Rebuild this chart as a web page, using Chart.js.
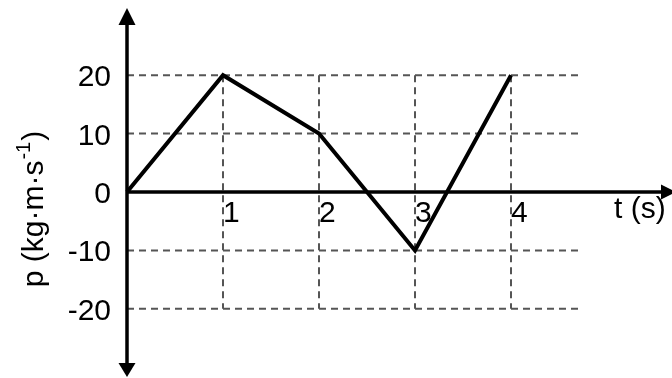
<!DOCTYPE html>
<html>
<head>
<meta charset="utf-8">
<script src="https://cdn.jsdelivr.net/npm/chart.js@4/dist/chart.umd.min.js"></script>
<style>
  body { margin: 0; background: #fff; }
  #wrap { width: 672px; height: 378px; }
</style>
</head>
<body>
<div id="wrap"><canvas id="myCanvas" width="672" height="378"></canvas></div>
<script>
// momentum vs time
const tValues = [0, 1, 2, 3, 4];
const pValues = [0, 20, 10, -10, 20];
const yTicks = [20, 10, 0, -10, -20];
const xTicks = [1, 2, 3, 4];
const gridRight = 4.75;

const FONT = '30px "Liberation Sans", Arial, sans-serif';

function arrowHead(ctx, tipX, tipY, dir, len, half)
{
    ctx.beginPath();
    if (dir === 'up') {
        ctx.moveTo(tipX, tipY);
        ctx.lineTo(tipX - half, tipY + len);
        ctx.lineTo(tipX + half, tipY + len);
    } else if (dir === 'down') {
        ctx.moveTo(tipX, tipY);
        ctx.lineTo(tipX - half, tipY - len);
        ctx.lineTo(tipX + half, tipY - len);
    } else {
        ctx.moveTo(tipX, tipY);
        ctx.lineTo(tipX - len, tipY - half);
        ctx.lineTo(tipX - len, tipY + half);
    }
    ctx.closePath();
    ctx.fill();
}

const axesPlugin = {
    id: 'axesPlugin',
    beforeDatasetsDraw(chart) {
        const ctx = chart.ctx;
        const xs = chart.scales.x, ys = chart.scales.y;
        const x0 = xs.getPixelForValue(0);
        const y0 = ys.getPixelForValue(0);
        const yTop = ys.getPixelForValue(Math.max(...yTicks));
        const yBot = ys.getPixelForValue(Math.min(...yTicks));
        const xEnd = xs.getPixelForValue(gridRight);

        ctx.save();
        // dashed grid
        ctx.strokeStyle = '#555';
        ctx.lineWidth = 2;
        ctx.setLineDash([7, 5]);
        yTicks.forEach(v => {
            if (v === 0) return;
            const y = ys.getPixelForValue(v);
            ctx.beginPath();
            ctx.moveTo(x0, y);
            ctx.lineTo(xEnd, y);
            ctx.stroke();
        });
        xTicks.forEach(v => {
            const x = xs.getPixelForValue(v);
            ctx.beginPath();
            ctx.moveTo(x, yTop);
            ctx.lineTo(x, yBot);
            ctx.stroke();
        });
        ctx.setLineDash([]);

        // axes
        ctx.strokeStyle = '#000';
        ctx.fillStyle = '#000';
        ctx.lineWidth = 3.5;
        ctx.beginPath();
        ctx.moveTo(x0, 20);
        ctx.lineTo(x0, 368);
        ctx.stroke();
        ctx.beginPath();
        ctx.moveTo(x0, y0);
        ctx.lineTo(664, y0);
        ctx.stroke();
        arrowHead(ctx, x0, 8, 'up', 17, 8.5);
        arrowHead(ctx, x0, 377, 'down', 14, 8.5);
        arrowHead(ctx, 676, y0, 'right', 15, 7.5);

        // tick labels
        ctx.font = FONT;
        ctx.textBaseline = 'alphabetic';
        ctx.textAlign = 'right';
        yTicks.forEach(v => {
            ctx.fillText(String(v), 111, ys.getPixelForValue(v) + 11);
        });
        ctx.textAlign = 'left';
        xTicks.forEach(v => {
            ctx.fillText(String(v), xs.getPixelForValue(v) + 0, y0 + 30);
        });
        ctx.fillText('t (s)', 614, y0 + 26);

        // y title with superscript
        const mainA = 'p (kg\u00b7m\u00b7s';
        const sup = '-1';
        const mainB = ')';
        const supFont = '20px "Liberation Sans", Arial, sans-serif';
        ctx.font = FONT;
        const wA = ctx.measureText(mainA).width;
        const wB = ctx.measureText(mainB).width;
        ctx.font = supFont;
        const wS = ctx.measureText(sup).width;
        const total = wA + wS + 2 + wB;
        ctx.translate(43, 209);
        ctx.rotate(-Math.PI / 2);
        let cx = -total / 2;
        ctx.font = FONT;
        ctx.fillText(mainA, cx, 0);
        cx += wA + 1;
        ctx.font = supFont;
        ctx.fillText(sup, cx, -13);
        cx += wS + 1;
        ctx.font = FONT;
        ctx.fillText(mainB, cx, 0);
        ctx.restore();
    }
};

var c = document.getElementById("myCanvas");
var ctx = c.getContext("2d");
var myChart = new Chart(ctx, {
    type: 'line',
    data: {
        datasets: [{
            data: tValues.map((t, i) => ({ x: t, y: pValues[i] })),
            borderColor: '#000',
            borderWidth: 4,
            pointRadius: 0,
            tension: 0,
            fill: false
        }]
    },
    options: {
        responsive: false,
        animation: false,
        devicePixelRatio: 1,
        layout: { padding: 0 },
        plugins: {
            legend: { display: false },
            tooltip: { enabled: false }
        },
        scales: {
            x: {
                type: 'linear',
                display: false,
                min: -127 / 96,
                max: (672 - 127) / 96
            },
            y: {
                type: 'linear',
                display: false,
                min: -186 / 5.84,
                max: 192 / 5.84
            }
        }
    },
    plugins: [axesPlugin]
});
</script>
</body>
</html>
